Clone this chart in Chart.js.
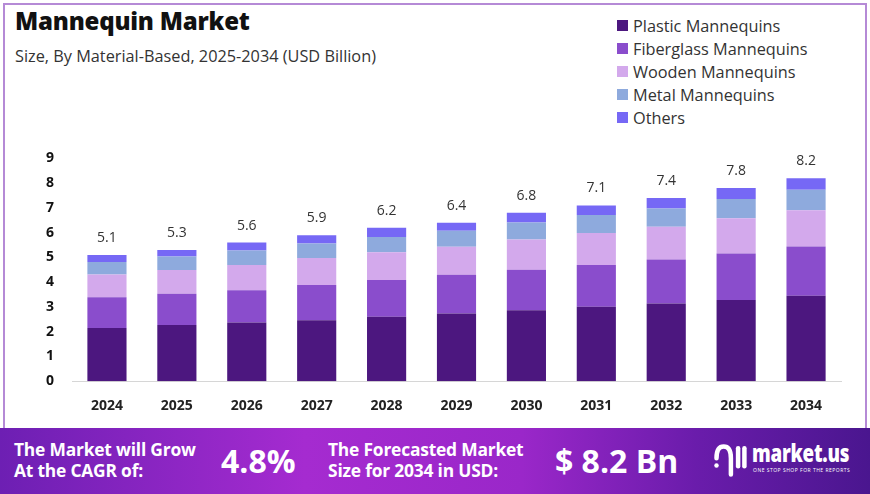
<!DOCTYPE html>
<html>
<head>
<meta charset="utf-8">
<script src="https://cdn.jsdelivr.net/npm/chart.js@4.4.0/dist/chart.umd.min.js"></script>
<style>
  body { margin: 0; width: 870px; height: 494px; overflow: hidden; background: #fff; font-family: "Open Sans", sans-serif; }
  #card { position: absolute; left: 3px; top: 3px; width: 864px; height: 440px; border: 2px solid #b58ad6; border-bottom: none; box-sizing: border-box; }
  #title { position: absolute; left: 15px; top: 4px; font-size: 24px; font-weight: 800; color: #111; letter-spacing: -0.2px; }
  #subtitle { position: absolute; left: 15px; top: 45px; font-size: 16.3px; color: #333; }
  #legend { position: absolute; left: 617px; top: 14px; }
  .item { height: 23px; font-size: 16.3px; color: #333; display: flex; align-items: center; }
  .box { width: 11px; height: 11px; margin-right: 5px; }
  #wrap { position: absolute; left: 0; top: 140px; width: 870px; height: 285px; }
  #footer { position: absolute; left: 0; top: 428px; width: 870px; height: 66px;
    background: linear-gradient(90deg, #6d1fb3 0%, #a52bd0 35%, #9a27c9 60%, #6a1cab 80%, #4a168f 100%); color: #fff; }
  .ft { position: absolute; font-weight: 700; line-height: 21px; font-size: 17.4px; letter-spacing: -0.2px; }
  .big { position: absolute; font-weight: 700; font-size: 32px; top: 11px; }
  #logo { position: absolute; left: 712px; top: 10px; }
</style>
</head>
<body>
<div id="card"></div>
<div id="title">Mannequin Market</div>
<div id="subtitle">Size, By Material-Based, 2025-2034 (USD Billion)</div>
<div id="legend"></div>
<div id="wrap"><canvas id="chart"></canvas></div>
<div id="footer">
  <div class="ft" style="left:14px; top:11px;">The Market will Grow<br>At the CAGR of:</div>
  <div class="big" style="left:221px;">4.8%</div>
  <div class="ft" style="left:328px; top:11px;">The Forecasted Market<br>Size for 2034 in USD:</div>
  <div class="big" style="left:555px;">$ 8.2 Bn</div>
  <div id="logo">
    <svg width="36" height="44" viewBox="0 0 40 44">
      <path d="M5 20 Q5 7 13 7 Q21 7 21 20 L21 38" stroke="#fff" stroke-width="5" fill="none" stroke-linecap="round"/>
      <line x1="29" y1="9" x2="29" y2="29" stroke="#fff" stroke-width="5" stroke-linecap="round"/>
      <line x1="36" y1="9" x2="36" y2="29" stroke="#fff" stroke-width="5" stroke-linecap="round"/>
      <circle cx="5" cy="28" r="2.5" fill="#fff"/>
    </svg>
    <div style="position:absolute; left:40px; top:-2px; font-size:24px; font-weight:800; letter-spacing:-0.3px; transform:scaleX(0.78); transform-origin:left top; white-space:nowrap;">market.us</div>
    <div style="position:absolute; left:41px; top:29px; font-size:5px; letter-spacing:0.5px; white-space:nowrap;">ONE STOP SHOP FOR THE REPORTS</div>
  </div>
</div>

<script>
// datos del grafico
var years = ['2024', '2025', '2026', '2027', '2028', '2029', '2030', '2031', '2032', '2033', '2034'];
var plastic    = [2.15, 2.27, 2.37, 2.46, 2.60, 2.73, 2.87, 3.01, 3.14, 3.28, 3.45];
var fiberglass = [1.24, 1.26, 1.30, 1.43, 1.49, 1.57, 1.63, 1.68, 1.78, 1.88, 1.99];
var wooden     = [0.92, 0.96, 1.02, 1.09, 1.12, 1.13, 1.22, 1.30, 1.32, 1.42, 1.47];
var metal      = [0.51, 0.55, 0.59, 0.58, 0.62, 0.65, 0.69, 0.72, 0.74, 0.78, 0.82];
var others     = [0.28, 0.26, 0.32, 0.34, 0.37, 0.32, 0.39, 0.39, 0.42, 0.44, 0.47];
var totals     = ['5.1', '5.3', '5.6', '5.9', '6.2', '6.4', '6.8', '7.1', '7.4', '7.8', '8.2'];
var yTicks     = [0, 1, 2, 3, 4, 5, 6, 7, 8, 9];

var seriesNames  = ['Plastic Mannequins', 'Fiberglass Mannequins', 'Wooden Mannequins', 'Metal Mannequins', 'Others'];
var seriesColors = ['#4c177f', '#8a4dcc', '#d3a9ec', '#8eaadd', '#7668f5'];
var seriesData   = [plastic, fiberglass, wooden, metal, others];

// leyenda en html
var legend = document.getElementById('legend');
seriesNames.forEach(function(name, i) {
    var row = document.createElement('div');
    row.className = 'item';
    row.innerHTML = '<span class="box" style="background:' + seriesColors[i] + '"></span>' + name;
    legend.appendChild(row);
});

// etiquetas con el total encima de cada barra
var totalLabels = {
    id: 'totalLabels',
    afterDatasetsDraw: function(chart) {
        var ctx = chart.ctx;
        var last = chart.getDatasetMeta(seriesData.length - 1);
        ctx.save();
        ctx.font = '14px "Open Sans"';
        ctx.fillStyle = '#333';
        ctx.textAlign = 'center';
        ctx.textBaseline = 'bottom';
        last.data.forEach(function(bar, i) {
            ctx.fillText(totals[i], bar.x, bar.y - 10);
        });
        ctx.restore();
    }
};

new Chart(document.getElementById('chart'), {
    type: 'bar',
    data: {
        labels: years,
        datasets: seriesNames.map(function(name, i) {
            return {
                label: name,
                data: seriesData[i],
                backgroundColor: seriesColors[i],
                barPercentage: 0.56,
                categoryPercentage: 1.0
            };
        })
    },
    options: {
        responsive: true,
        maintainAspectRatio: false,
        animation: false,
        layout: { padding: { top: 9, left: 36, right: 29, bottom: 3 } },
        plugins: { legend: { display: false }, tooltip: { enabled: false } },
        scales: {
            x: {
                stacked: true,
                grid: { display: false },
                border: { display: true, color: '#d6d6d6' },
                ticks: { color: '#222', font: { size: 14, weight: 'bold', family: 'Open Sans' }, padding: 8 }
            },
            y: {
                stacked: true,
                min: 0,
                max: 9,
                afterBuildTicks: function(axis) {
                    axis.ticks = yTicks.map(function(v) { return { value: v }; });
                },
                grid: { display: false },
                border: { display: false },
                ticks: { color: '#111', font: { size: 14, weight: 'bold', family: 'Open Sans' }, padding: 10 }
            }
        }
    },
    plugins: [totalLabels]
});
</script>
</body>
</html>
